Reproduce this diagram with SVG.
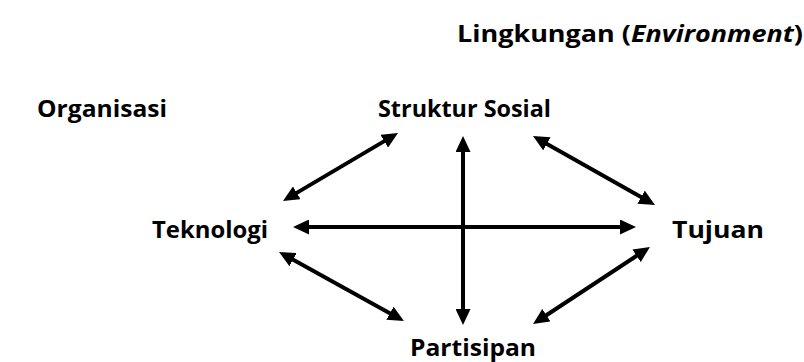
<svg xmlns="http://www.w3.org/2000/svg" width="804" height="362" viewBox="0 0 804 362">
<defs>
<marker id="ah" viewBox="0 0 16 15" refX="6" refY="7.5" markerWidth="16" markerHeight="15" markerUnits="userSpaceOnUse" orient="auto-start-reverse">
<path d="M0,0 L16,7.5 L0,15 z" fill="#000"/>
</marker>
<style>
.t{font-family:"Open Sans","Liberation Sans",sans-serif;font-weight:bold;font-size:24px;fill:#000}
.c line{stroke:#000;stroke-width:4;marker-start:url(#ah);marker-end:url(#ah)}
</style>
</defs>
<rect width="804" height="362" fill="#fff"/>
<g id="lingkungan"><text class="t" x="457" y="42" font-size="26" textLength="346" lengthAdjust="spacingAndGlyphs">Lingkungan (<tspan font-style="italic">Environment</tspan>)</text></g>
<g id="organisasi"><text class="t" x="37" y="117" textLength="130" lengthAdjust="spacingAndGlyphs">Organisasi</text></g>
<g id="struktur"><text class="t" x="378" y="117" textLength="173" lengthAdjust="spacingAndGlyphs">Struktur Sosial</text></g>
<g id="teknologi"><text class="t" x="152" y="238" textLength="116" lengthAdjust="spacingAndGlyphs">Teknologi</text></g>
<g id="tujuan"><text class="t" x="672" y="238" textLength="92" lengthAdjust="spacingAndGlyphs">Tujuan</text></g>
<g id="partisipan"><text class="t" x="410" y="356" font-size="23" textLength="126" lengthAdjust="spacingAndGlyphs">Partisipan</text></g>
<g id="connectors" class="c">
<line x1="291.6" y1="195.9" x2="389.4" y2="138.1"/>
<line x1="463" y1="146" x2="463" y2="315"/>
<line x1="303" y1="227" x2="626" y2="227"/>
<line x1="541.7" y1="140.9" x2="646.3" y2="200.1"/>
<line x1="287.8" y1="256.8" x2="395.2" y2="316.2"/>
<line x1="541.4" y1="318.5" x2="641.6" y2="252.5"/>
</g>
</svg>
